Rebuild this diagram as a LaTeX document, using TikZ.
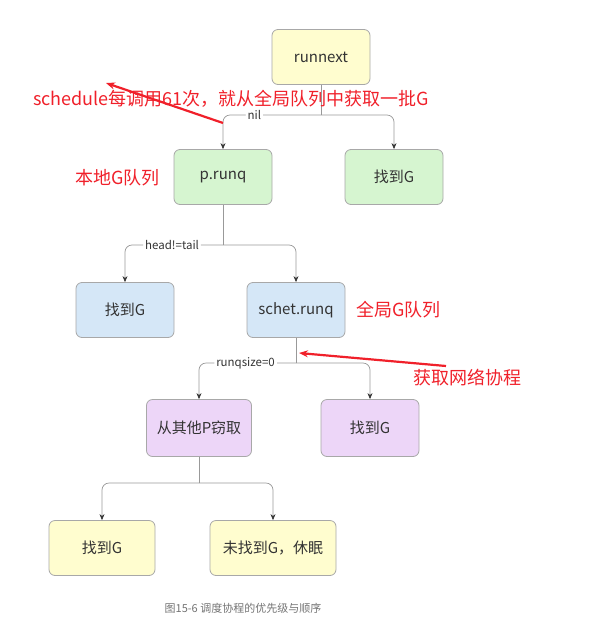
\documentclass[tikz,border=0pt]{standalone}
\usepackage{fontspec}
\setmainfont{Noto Sans CJK SC}
\usetikzlibrary{arrows.meta}

\definecolor{boxgray}{HTML}{A8A8A8}
\definecolor{boxtext}{HTML}{333333}
\definecolor{yellowbg}{HTML}{FFFDCF}
\definecolor{greenbg}{HTML}{D6F5D0}
\definecolor{bluebg}{HTML}{D5E7F7}
\definecolor{purplebg}{HTML}{EDD6F8}
\definecolor{noteRed}{HTML}{F0202A}

\tikzset{
  box/.style={draw=boxgray, line width=0.8pt, rounded corners=6pt,
    minimum width=98pt, minimum height=55pt, text=boxtext,
    font=\fontsize{15}{18}\selectfont},
  link/.style={draw=gray!80, line width=0.7pt},
  branch/.style={link, rounded corners=7pt, -{Stealth[length=6pt,width=5pt,black!80]}},
  cond/.style={fill=white, text=boxtext, inner sep=2pt, font=\fontsize{11.5}{13}\selectfont},
  note/.style={text=noteRed, font=\fontsize{18}{21}\selectfont, inner sep=0pt},
  pointer/.style={draw=noteRed, line width=2.2pt, -{Stealth[length=9pt,width=7pt]}}
}

\begin{document}
\begin{tikzpicture}[x=1pt,y=-1pt]
\useasboundingbox (0,0) rectangle (592,622);

% level 1
\node[box, fill=yellowbg] (runnext) at (321,57) {runnext};

% level 2
\node[box, fill=greenbg] (prunq) at (223,177) {p.runq};
\node[box, fill=greenbg] (foundA) at (394,177) {找到G};

% level 3
\node[box, fill=bluebg] (foundB) at (125,310) {找到G};
\node[box, fill=bluebg] (schet) at (296,310) {schet.runq};

% level 4
\node[box, fill=purplebg, minimum width=105pt, minimum height=57pt] (steal) at (199,428) {从其他P窃取};
\node[box, fill=purplebg, minimum height=57pt] (foundC) at (370,428) {找到G};

% level 5
\node[box, fill=yellowbg, minimum width=106pt] (foundD) at (102,548) {找到G};
\node[box, fill=yellowbg, minimum width=126pt] (sleep) at (273,548) {未找到G，休眠};

% branches
\coordinate (j1) at (321,115);
\coordinate (j2) at (223,245);
\coordinate (j3) at (296,363);
\coordinate (j4) at (199,483);

\draw[link] (runnext) -- (j1);
\draw[branch] (j1) -| node[cond, pos=0.34] {nil} (prunq);
\draw[branch] (j1) -| (foundA);

\draw[link] (prunq) -- (j2);
\draw[branch] (j2) -| node[cond, pos=0.26] {head!=tail} (foundB);
\draw[branch] (j2) -| (schet);

\draw[link] (schet) -- (j3);
\draw[branch] (j3) -| node[cond, pos=0.26] {runqsize=0} (steal);
\draw[branch] (j3) -| (foundC);

\draw[link] (steal) -- (j4);
\draw[branch] (j4) -| (foundD);
\draw[branch] (j4) -| (sleep);

% red notes
\node[note, anchor=west] (every61) at (33,99) {schedule每调用61次，就从全局队列中获取一批G};
\node[note, anchor=west] (localq) at (75,178) {本地G队列};
\node[note, anchor=west] (globalq) at (356,310) {全局G队列};
\node[note, anchor=west] (netpoll) at (413,378) {获取网络协程};

\coordinate (p1s) at (223,123);
\coordinate (p1e) at (106,83);
\coordinate (p2s) at (446,366);
\coordinate (p2e) at (299,353);
\draw[pointer] (p1s) -- (p1e);
\draw[pointer] (p2s) -- (p2e);

% caption
\node[text=gray!90!black, font=\fontsize{11}{13}\selectfont] (caption) at (243,608) {图15-6 调度协程的优先级与顺序};
\end{tikzpicture}
\end{document}
